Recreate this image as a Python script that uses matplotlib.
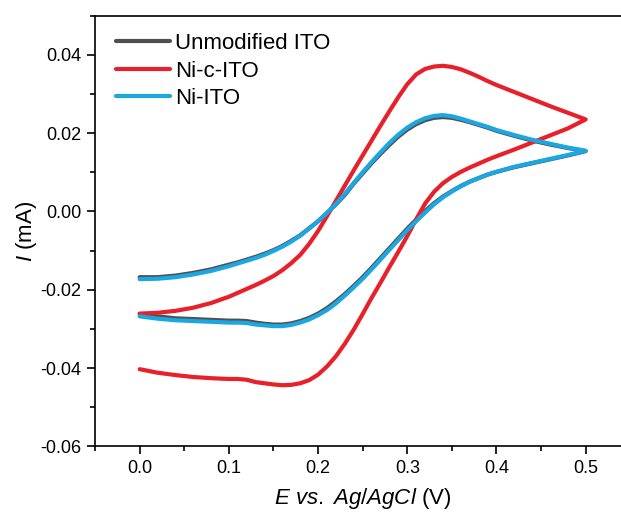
import matplotlib
matplotlib.use("Agg")
import matplotlib.pyplot as plt
from matplotlib.ticker import MultipleLocator

plt.rcParams["font.family"] = ["Liberation Sans", "DejaVu Sans"]
plt.rcParams["mathtext.fontset"] = "custom"
plt.rcParams["mathtext.rm"] = "Liberation Sans"
plt.rcParams["mathtext.it"] = "Liberation Sans:italic"
plt.rcParams["axes.unicode_minus"] = False

# potential (V vs Ag/AgCl); both sweeps stored in ascending E order
E = [0.00, 0.02, 0.04, 0.06, 0.08, 0.10,
     0.11, 0.12, 0.13, 0.14, 0.15, 0.16, 0.17, 0.18, 0.19, 0.20,
     0.21, 0.22, 0.23, 0.24, 0.25, 0.26, 0.27, 0.28, 0.29, 0.30,
     0.31, 0.32, 0.33, 0.34, 0.35, 0.36, 0.37, 0.38, 0.39, 0.40,
     0.42, 0.44, 0.46, 0.48, 0.50]

# current (mA): anodic sweep (fwd) and cathodic sweep (rev)
ito_fwd = [-0.0168, -0.0168, -0.0164, -0.0157, -0.0148, -0.0136,
           -0.0130, -0.0123, -0.0116, -0.0108, -0.0099, -0.0088, -0.0075, -0.0061, -0.0043, -0.0025,
           -0.0004, 0.0018, 0.0042, 0.0071, 0.0097, 0.0123, 0.0147, 0.0170, 0.0191, 0.0209,
           0.0223, 0.0233, 0.0239, 0.0241, 0.0239, 0.0234, 0.0228, 0.0221, 0.0214, 0.0206,
           0.0193, 0.0181, 0.0171, 0.0162, 0.0154]
ito_rev = [-0.0262, -0.0268, -0.0273, -0.0275, -0.0277, -0.0279,
           -0.0279, -0.0280, -0.0284, -0.0287, -0.0289, -0.0289, -0.0286, -0.0280, -0.0272, -0.0261,
           -0.0247, -0.0230, -0.0211, -0.0190, -0.0168, -0.0144, -0.0119, -0.0094, -0.0069, -0.0044,
           -0.0021, 0.0001, 0.0021, 0.0038, 0.0052, 0.0065, 0.0076, 0.0085, 0.0094, 0.0101,
           0.0113, 0.0123, 0.0133, 0.0143, 0.0154]

nic_fwd = [-0.0261, -0.0259, -0.0254, -0.0246, -0.0234, -0.0218,
           -0.0208, -0.0198, -0.0188, -0.0177, -0.0165, -0.0150, -0.0132, -0.0111, -0.0083, -0.0050,
           -0.0012, 0.0027, 0.0066, 0.0105, 0.0143, 0.0181, 0.0219, 0.0256, 0.0292, 0.0325,
           0.0350, 0.0364, 0.0370, 0.0372, 0.0369, 0.0363, 0.0354, 0.0344, 0.0333, 0.0323,
           0.0305, 0.0287, 0.0269, 0.0252, 0.0235]
nic_rev = [-0.0403, -0.0412, -0.0418, -0.0423, -0.0426, -0.0428,
           -0.0428, -0.0430, -0.0436, -0.0439, -0.0442, -0.0444, -0.0443, -0.0439, -0.0431, -0.0417,
           -0.0396, -0.0370, -0.0338, -0.0302, -0.0262, -0.0221, -0.0182, -0.0142, -0.0103, -0.0063,
           -0.0020, 0.0020, 0.0050, 0.0072, 0.0088, 0.0101, 0.0112, 0.0122, 0.0132, 0.0141,
           0.0158, 0.0176, 0.0194, 0.0212, 0.0235]

ni_fwd = [-0.0173, -0.0172, -0.0168, -0.0161, -0.0152, -0.0140,
          -0.0133, -0.0126, -0.0119, -0.0111, -0.0101, -0.0090, -0.0077, -0.0062, -0.0044, -0.0025,
          -0.0004, 0.0019, 0.0045, 0.0073, 0.0100, 0.0126, 0.0151, 0.0175, 0.0196, 0.0214,
          0.0228, 0.0238, 0.0244, 0.0246, 0.0243, 0.0237, 0.0230, 0.0223, 0.0216, 0.0208,
          0.0195, 0.0183, 0.0173, 0.0163, 0.0155]
ni_rev = [-0.0268, -0.0274, -0.0278, -0.0280, -0.0282, -0.0284,
          -0.0284, -0.0285, -0.0289, -0.0291, -0.0293, -0.0293, -0.0290, -0.0284, -0.0276, -0.0265,
          -0.0252, -0.0235, -0.0215, -0.0194, -0.0172, -0.0148, -0.0123, -0.0098, -0.0073, -0.0048,
          -0.0025, -0.0003, 0.0018, 0.0036, 0.0051, 0.0064, 0.0076, 0.0085, 0.0094, 0.0101,
          0.0114, 0.0124, 0.0134, 0.0144, 0.0155]

series = [
    ("Unmodified ITO", ito_fwd, ito_rev, "#505050"),
    ("Ni-c-ITO", nic_fwd, nic_rev, "#e8202a"),
    ("Ni-ITO", ni_fwd, ni_rev, "#1ba7e2"),
]

fig = plt.figure(figsize=(6.21, 5.14), dpi=100)
ax = fig.add_axes([0.1531, 0.1317, 0.8618, 0.8378])

# full loop: forward sweep out to 0.5 V, then back down to 0 V
for label, fwd, rev, color in series:
    ax.plot(E + E[::-1], fwd + rev[::-1], color=color, lw=3.0, label=label,
            solid_joinstyle="round", solid_capstyle="round")

ax.set_xlim(-0.05, 0.55)
ax.set_ylim(-0.06, 0.05)
ax.set_xticks([0.0, 0.1, 0.2, 0.3, 0.4, 0.5])
ax.set_yticks([-0.06, -0.04, -0.02, 0.0, 0.02, 0.04])
ax.xaxis.set_minor_locator(MultipleLocator(0.05))
ax.yaxis.set_minor_locator(MultipleLocator(0.01))
ax.xaxis.set_major_formatter(plt.FuncFormatter(lambda v, _: f"{v:.1f}"))
ax.yaxis.set_major_formatter(plt.FuncFormatter(lambda v, _: f"{v:.2f}"))

ax.tick_params(which="major", direction="out", length=6, width=1.2, labelsize=13, pad=4)
ax.tick_params(which="minor", direction="out", length=3.5, width=1.2)
for sp in ax.spines.values():
    sp.set_linewidth(1.2)

ax.set_xlabel(r"$E$ $vs.$ $Ag/AgCl$ (V)", fontsize=16, labelpad=6)
ax.set_ylabel(r"$I$ (mA)", fontsize=16, labelpad=0.5)

ax.legend(loc="upper left", bbox_to_anchor=(0.04, 0.96), frameon=False, fontsize=16,
          handlelength=2.4, handletextpad=0.25, labelspacing=0.3, borderpad=0,
          borderaxespad=0)

fig.savefig("out.png", dpi=100)
